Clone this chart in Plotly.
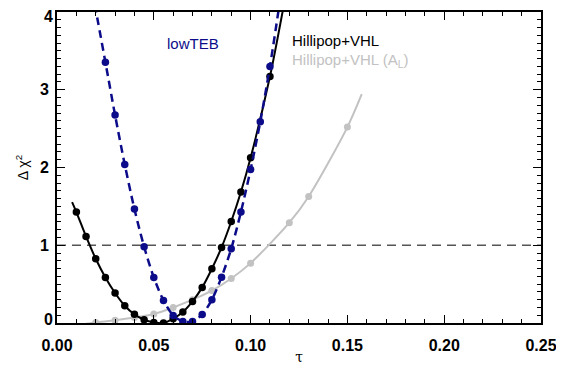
import plotly.graph_objects as go

# ---- data ----
# Hillipop+VHL (black)
tau_hv = [0.010, 0.015, 0.020, 0.025, 0.030, 0.035, 0.040, 0.045, 0.050, 0.055,
          0.060, 0.065, 0.070, 0.075, 0.080, 0.085, 0.090, 0.095, 0.100, 0.110]
chi_hv = [1.427, 1.113, 0.826, 0.586, 0.386, 0.222, 0.111, 0.042, 0.008, 0.000,
          0.055, 0.141, 0.278, 0.458, 0.698, 0.972, 1.306, 1.684, 2.125, 3.17]
tau_hv_line = [0.0078] + tau_hv + [0.1165, 0.119]
chi_hv_line = [1.555] + chi_hv + [4.0, 4.35]

# lowTEB (navy, dashed)
tau_low = [0.025, 0.030, 0.035, 0.040, 0.045, 0.050, 0.055, 0.060, 0.065, 0.070,
           0.075, 0.080, 0.085, 0.090, 0.095, 0.100, 0.105, 0.110]
chi_low = [3.355, 2.674, 2.039, 1.465, 0.981, 0.586, 0.290, 0.098, 0.020, 0.020,
           0.110, 0.300, 0.590, 0.955, 1.427, 1.975, 2.590, 3.300]
tau_low_line = [0.0195] + tau_low + [0.1143, 0.116]
chi_low_line = [4.10] + chi_low + [4.0, 4.3]

# Hillipop+VHL (A_L) (light gray)
tau_al = [0.020, 0.030, 0.040, 0.050, 0.060, 0.070, 0.080, 0.090, 0.100, 0.120, 0.130, 0.150]
chi_al = [0.008, 0.035, 0.070, 0.116, 0.200, 0.300, 0.417, 0.572, 0.770, 1.290, 1.627, 2.520]
tau_al_line = [0.015] + tau_al + [0.1574]
chi_al_line = [-0.01] + chi_al + [2.943]

ref_level = 1.0
x_range = [0.0, 0.25]
y_range = [0.0, 4.0]

x_ticks = [0.0, 0.05, 0.10, 0.15, 0.20, 0.25]
x_ticktext = ["0.00", "0.05", "0.10", "0.15", "0.20", "0.25"]
y_ticks = [0, 1, 2, 3, 4]
y_ticktext = ["", "1", "2", "3", ""]
y_top_tick = [4]
y_bottom_tick = [0]

NAVY = "#0c0c8a"
GRAY = "#c2c2c2"
FONT = "Liberation Sans, Arial, Helvetica, sans-serif"

fig = go.Figure()

# reference dashed line at delta chi2 = 1
fig.add_trace(go.Scatter(x=x_range, y=[ref_level, ref_level], mode="lines",
                         line=dict(color="#555555", width=1.5, dash="9px,6px"),
                         hoverinfo="skip", showlegend=False))

# gray curve
fig.add_trace(go.Scatter(x=tau_al_line, y=chi_al_line, mode="lines",
                         line=dict(color=GRAY, width=2, shape="spline", smoothing=0.8),
                         showlegend=False))
fig.add_trace(go.Scatter(x=tau_al, y=chi_al, mode="markers",
                         marker=dict(color=GRAY, size=7), showlegend=False))

# black curve
fig.add_trace(go.Scatter(x=tau_hv_line, y=chi_hv_line, mode="lines",
                         line=dict(color="black", width=2, shape="spline", smoothing=0.8),
                         showlegend=False))
fig.add_trace(go.Scatter(x=tau_hv, y=chi_hv, mode="markers",
                         marker=dict(color="black", size=7.5), showlegend=False))

# navy dashed curve
fig.add_trace(go.Scatter(x=tau_low_line, y=chi_low_line, mode="lines",
                         line=dict(color=NAVY, width=2.5, shape="spline", smoothing=0.8,
                                   dash="8px,5px"),
                         showlegend=False))
fig.add_trace(go.Scatter(x=tau_low, y=chi_low, mode="markers",
                         marker=dict(color=NAVY, size=7.5), showlegend=False))

# invisible traces to carry the mirrored / extra label axes
for ya in ["y2", "y3", "y4"]:
    fig.add_trace(go.Scatter(x=x_range, y=y_range, xaxis="x2" if ya == "y2" else "x",
                             yaxis=ya, mode="markers", marker=dict(opacity=0),
                             hoverinfo="skip", showlegend=False))

# labels
fig.add_annotation(x=0.0557, y=3.60, text="lowTEB", showarrow=False,
                   xanchor="left", yanchor="middle",
                   font=dict(family=FONT, size=15, color=NAVY))
fig.add_annotation(x=0.1203, y=3.63, text="Hillipop+VHL", showarrow=False,
                   xanchor="left", yanchor="middle",
                   font=dict(family=FONT, size=15, color="black"))
fig.add_annotation(x=0.1203, y=3.37, text="Hillipop+VHL (A<sub>L</sub>)", showarrow=False,
                   xanchor="left", yanchor="middle",
                   font=dict(family=FONT, size=15, color=GRAY))

tickfont = dict(family=FONT, size=16, color="black", weight="bold")
axis_common = dict(showline=True, linecolor="black", linewidth=1.6,
                   ticks="inside", tickcolor="black", tickwidth=1.3, ticklen=8,
                   showgrid=False, zeroline=False, automargin=False, tickfont=tickfont)

xminor = dict(dtick=0.01, ticks="inside", ticklen=4, tickcolor="black",
              tickwidth=1.2, showgrid=False)
yminor = dict(dtick=0.1, ticks="inside", ticklen=4, tickcolor="black",
              tickwidth=1.2, showgrid=False)

label_only = dict(range=y_range, overlaying="y", side="left", anchor="x",
                  showline=False, ticks="", showgrid=False, zeroline=False,
                  automargin=False, tickfont=tickfont, ticklabelstandoff=3,
                  ticklabeloverflow="allow")

# the page body adds an 8 px offset, so the figure is sized to fit the window
fig.update_layout(
    xaxis=dict(range=x_range, tickvals=x_ticks, ticktext=x_ticktext, minor=xminor,
               ticklabelstandoff=7,
               title=dict(text="τ", font=dict(family="DejaVu Serif", size=14, color="black"),
                          standoff=8),
               **axis_common),
    yaxis=dict(range=y_range, tickvals=y_ticks, ticktext=y_ticktext, minor=yminor,
               ticklabelstandoff=3,
               title=dict(text="Δ χ<sup>2</sup>", font=dict(family=FONT, size=14, color="black"),
                          standoff=8),
               **axis_common),
    xaxis2=dict(range=x_range, tickvals=x_ticks, minor=xminor, overlaying="x", side="top",
                showticklabels=False, **axis_common),
    yaxis2=dict(range=y_range, tickvals=y_ticks, minor=yminor, overlaying="y", side="right",
                anchor="x2", showticklabels=False, **axis_common),
    yaxis3=dict(tickvals=y_top_tick, ticktext=["4"], ticklabelshift=4, **label_only),
    yaxis4=dict(tickvals=y_bottom_tick, ticktext=["0"], ticklabelshift=-4, **label_only),
    width=556, height=357, margin=dict(l=49, r=23, t=4, b=42),
    plot_bgcolor="white", paper_bgcolor="white", showlegend=False)

fig.write_html("out.html")
